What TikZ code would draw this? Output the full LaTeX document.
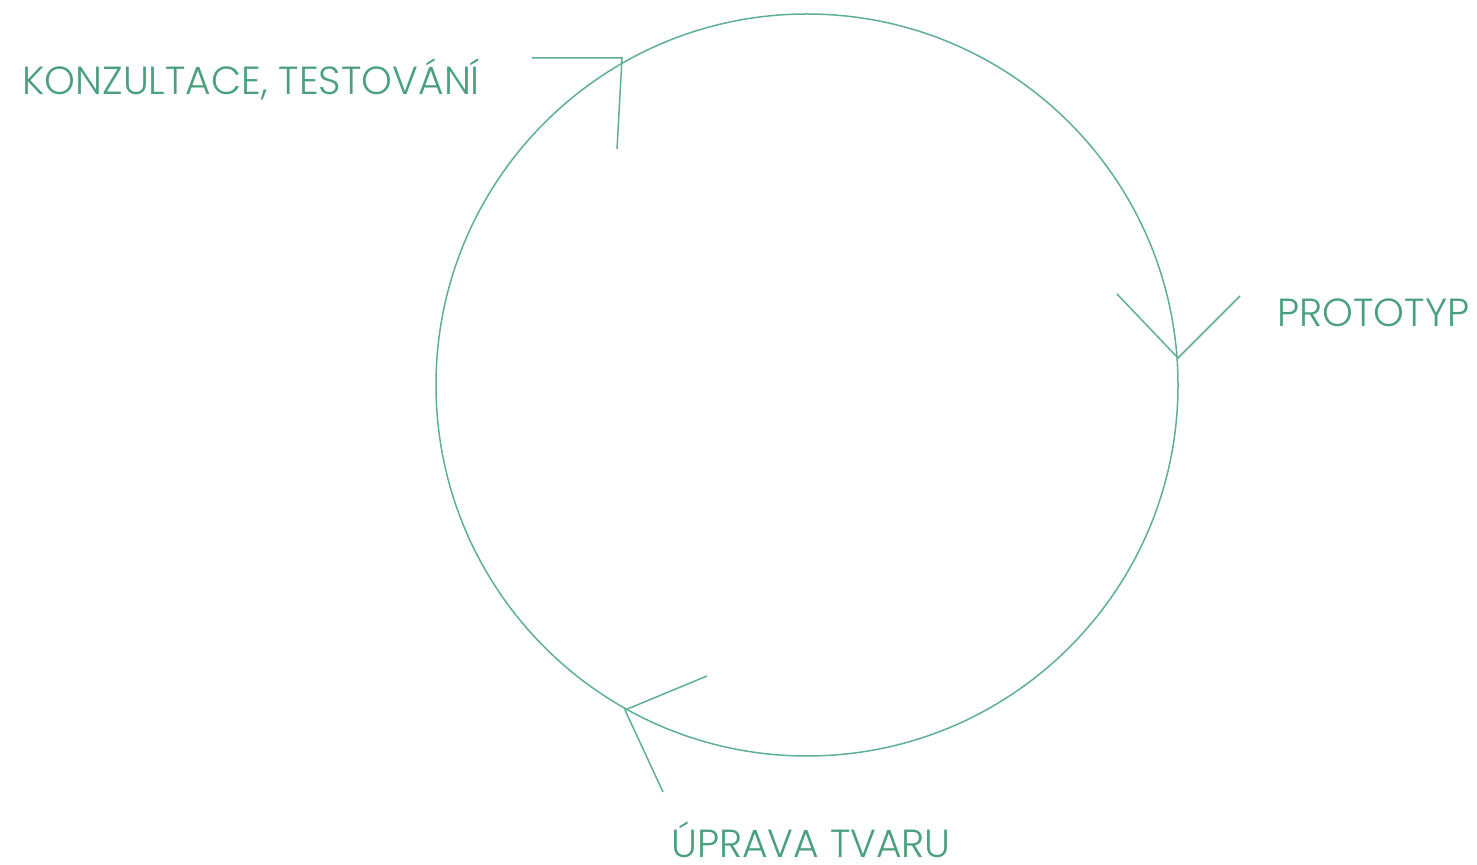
\documentclass[tikz,border=0pt]{standalone}
\usepackage{fontspec}
\setmainfont{Poppins}[UprightFont=* Light]
\definecolor{cyclegreen}{RGB}{95,175,145}
\definecolor{labelgreen}{RGB}{74,160,126}
\tikzset{
  loopline/.style={draw=cyclegreen, line width=0.75pt},
  steplabel/.style={text=labelgreen, anchor=base west, inner sep=0pt, text depth=0pt, font=\fontsize{19.6}{23}\selectfont}
}
\begin{document}
\begin{tikzpicture}[x=0.5pt,y=-0.5pt]
  \useasboundingbox (0,0) rectangle (1477,865);

  % Circle
  \draw[loopline] (807,385) circle[radius=371];

  % Arrow tips
  \coordinate (tipA) at (622,58);
  \coordinate (tipB) at (1178,358);
  \coordinate (tipC) at (625,710);
  \coordinate (a1) at (532,58);
  \coordinate (a2) at (617,149);
  \coordinate (b1) at (1117,294);
  \coordinate (b2) at (1240,296);
  \coordinate (c1) at (707,676);
  \coordinate (c2) at (663,792);
  \draw[loopline] (a1) -- (tipA) -- (a2);
  \draw[loopline] (b1) -- (tipB) -- (b2);
  \draw[loopline] (c1) -- (tipC) -- (c2);

  % Labels
  \node[steplabel] (konz) at (22,95) {KONZULTACE, TESTOVÁNÍ};
  \node[steplabel] (proto) at (1277,327) {PROTOTYP};
  \node[steplabel] (uprava) at (671,857) {ÚPRAVA TVARU};
\end{tikzpicture}
\end{document}
